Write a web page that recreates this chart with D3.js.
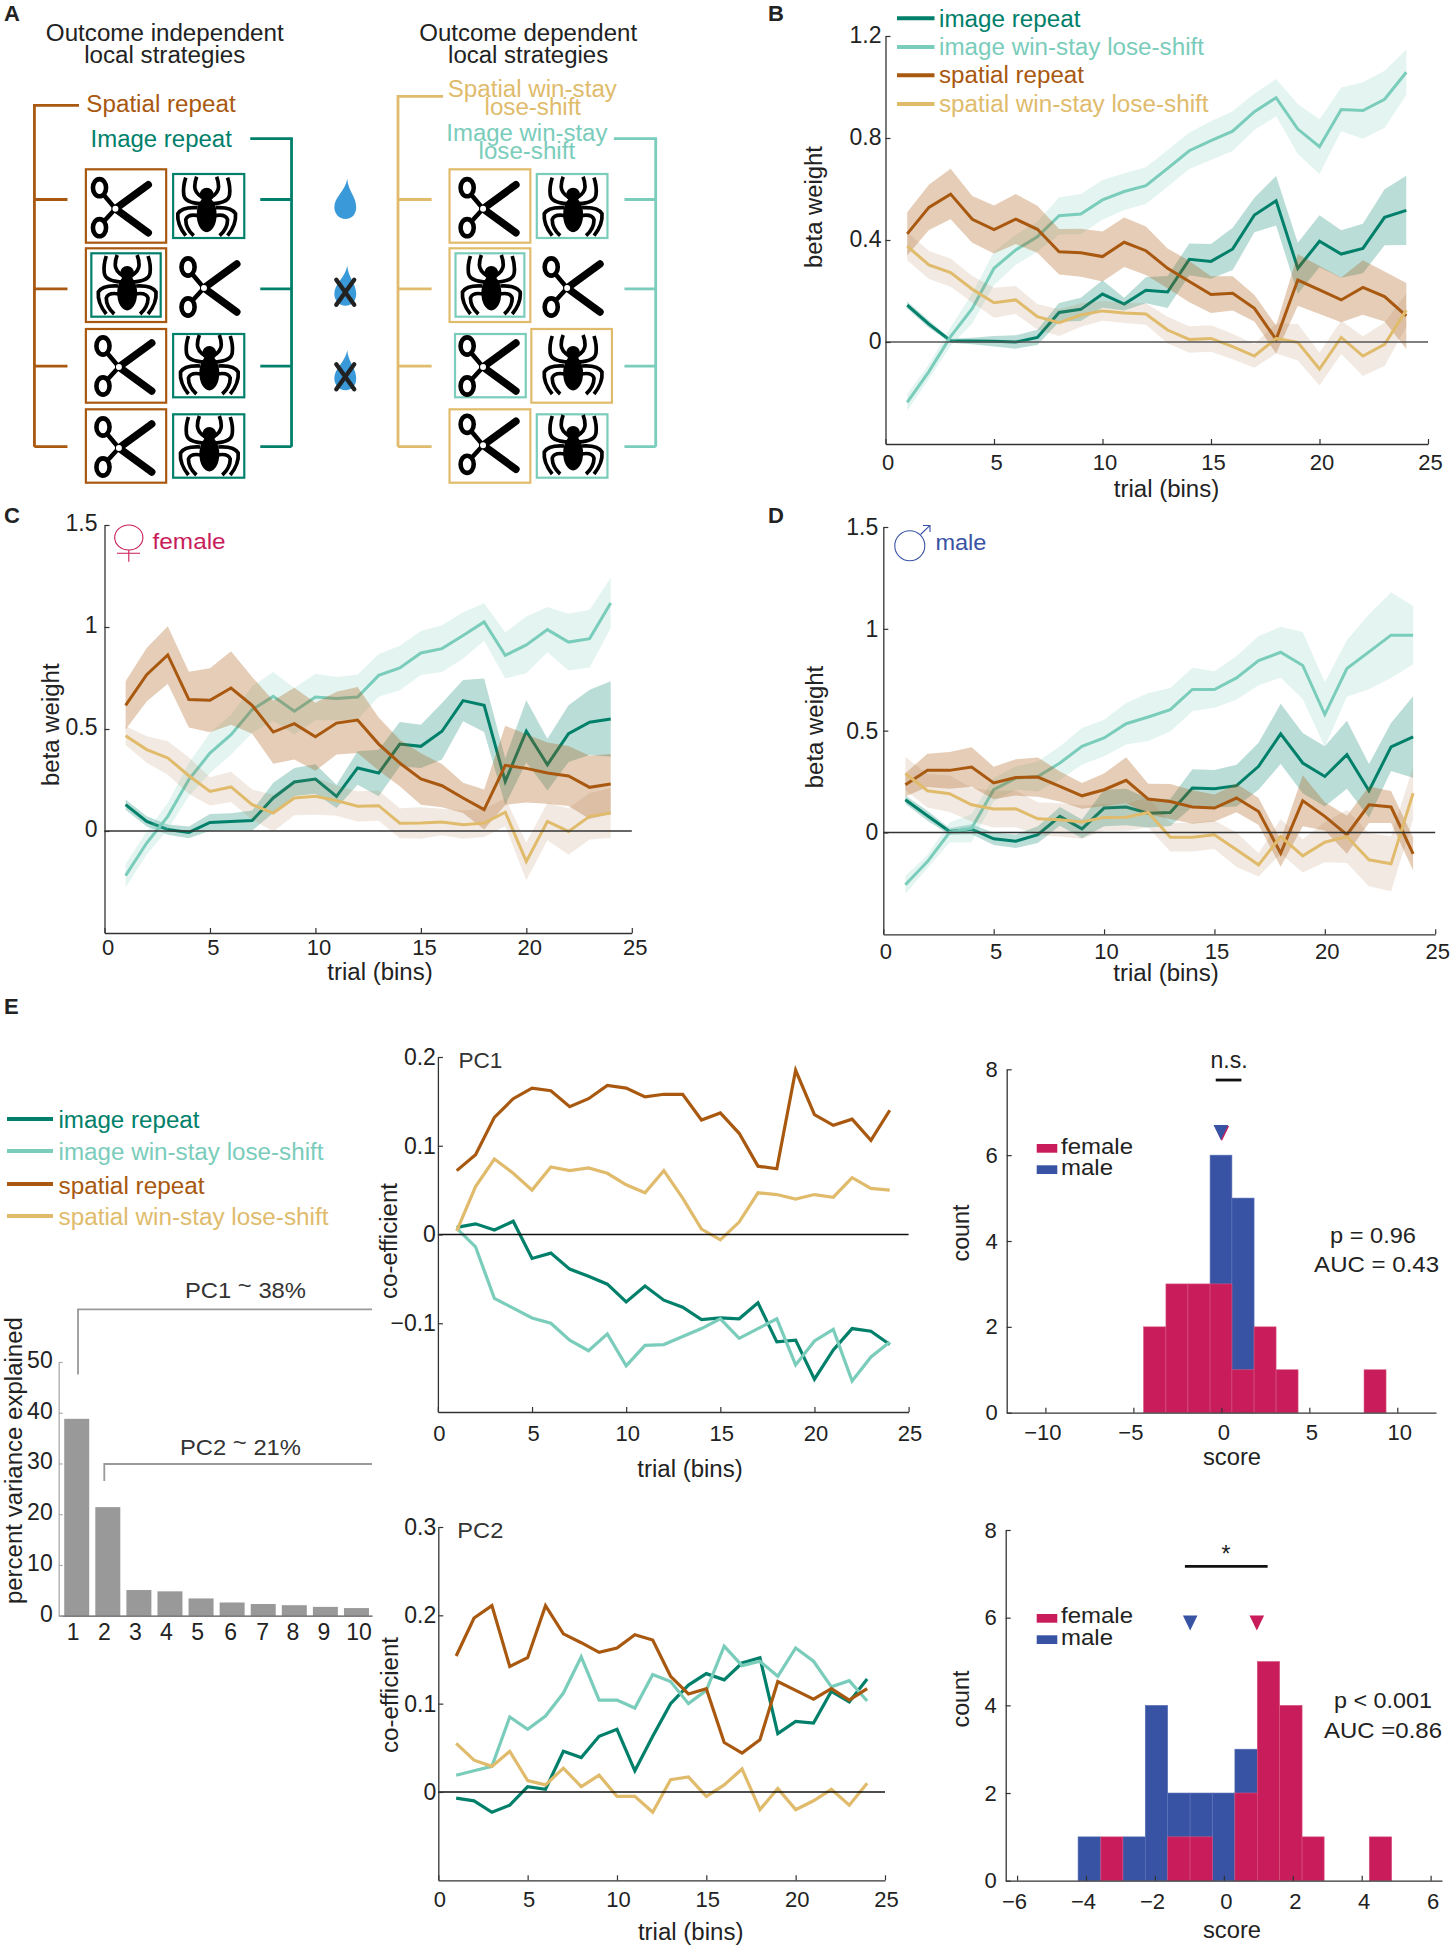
<!DOCTYPE html>
<html><head><meta charset="utf-8">
<script src="https://cdn.jsdelivr.net/npm/d3@7/dist/d3.min.js"></script>
<style>
html,body{margin:0;padding:0;background:#fff}
svg{display:block;font-family:"Liberation Sans",Arial,sans-serif}
</style></head><body><svg id="fig" width="1453" height="1950" viewBox="0 0 1453 1950"></svg>
<script>
const trials = d3.range(1, 25);
const seriesNames = ["image repeat", "image win-stay lose-shift", "spatial repeat", "spatial win-stay lose-shift"];
const seriesColors = ["#00806a", "#7accbb", "#a9580f", "#e0bb6c"];
const bandColors = ["#00806a", "#7accbb", "#a9580f", "#a9703c"];
const bandOpacity = [0.27, 0.2, 0.3, 0.15];

// Panel B: all animals
const bImageRepeat = [.145,.07,.005,.004,.003,0,.018,.116,.128,.188,.149,.203,.196,.324,.316,.365,.498,.554,.289,.395,.345,.367,.489,.516];
const bImageRepeatErr = [.014,.014,.008,.013,.021,.026,.03,.037,.046,.054,.025,.051,.063,.062,.068,.083,.068,.097,.1,.102,.093,.097,.11,.136];
const bImageWsls = [-.237,-.116,.021,.132,.289,.361,.413,.495,.502,.557,.59,.613,.681,.75,.79,.827,.903,.958,.835,.766,.912,.908,.952,1.058];
const bImageWslsErr = [.033,.029,.037,.059,.065,.059,.059,.073,.078,.078,.072,.072,.072,.072,.076,.078,.072,.073,.098,.108,.086,.111,.112,.089];
const bSpatialRepeat = [.424,.528,.58,.481,.441,.482,.442,.354,.35,.335,.391,.358,.289,.237,.186,.191,.132,.01,.243,.204,.165,.214,.178,.102];
const bSpatialRepeatErr = [.085,.089,.099,.092,.094,.098,.092,.089,.094,.098,.097,.095,.078,.081,.072,.067,.052,.055,.101,.094,.088,.107,.098,.129];
const bSpatialWsls = [.376,.302,.272,.207,.154,.165,.099,.076,.106,.122,.114,.11,.047,.01,.014,-.018,-.055,.014,-.001,-.106,.018,-.055,-.009,.125];
const bSpatialWslsErr = [.055,.055,.055,.052,.059,.055,.05,.052,.046,.039,.039,.042,.052,.052,.052,.05,.046,.059,.072,.065,.065,.078,.085,.065];

// Panel C: female
const cImageRepeat = [.129,.047,.007,-.007,.042,.046,.051,.162,.24,.255,.17,.309,.284,.426,.415,.489,.639,.616,.243,.489,.325,.477,.533,.549];
const cImageRepeatErr = [.025,.025,.025,.029,.041,.041,.049,.074,.069,.072,.057,.082,.114,.108,.106,.139,.101,.131,.114,.152,.127,.139,.16,.185];
const cImageWsls = [-.219,-.059,.072,.252,.382,.472,.595,.66,.587,.657,.649,.657,.763,.799,.873,.894,.958,1.025,.861,.912,.987,.926,.943,1.118];
const cImageWslsErr = [.057,.057,.065,.082,.098,.098,.114,.12,.114,.114,.106,.11,.105,.109,.108,.114,.114,.092,.113,.139,.111,.139,.142,.124];
const cSpatialRepeat = [.616,.766,.863,.644,.641,.701,.616,.485,.526,.462,.529,.544,.426,.333,.255,.222,.162,.105,.322,.307,.284,.27,.214,.23];
const cSpatialRepeatErr = [.118,.131,.141,.137,.157,.18,.139,.155,.176,.167,.154,.162,.13,.114,.126,.106,.074,.098,.194,.167,.15,.147,.155,.147];
const cSpatialWsls = [.467,.399,.358,.271,.194,.216,.129,.088,.162,.17,.149,.121,.124,.038,.039,.044,.031,.039,.092,-.149,.047,-.002,.072,.088];
const cSpatialWslsErr = [.046,.065,.082,.09,.069,.074,.074,.09,.085,.09,.074,.074,.074,.074,.077,.065,.069,.069,.069,.093,.092,.114,.114,.122];

// Panel D: male
const dImageRepeat = [.161,.082,.005,.016,-.031,-.043,-.011,.079,.018,.12,.125,.095,.098,.218,.215,.23,.325,.484,.341,.275,.382,.205,.42,.469];
const dImageRepeatErr = [.02,.025,.016,.025,.03,.033,.041,.046,.046,.09,.09,.07,.066,.092,.092,.102,.115,.148,.148,.148,.167,.131,.118,.2];
const dImageWsls = [-.257,-.143,0,.021,.21,.267,.275,.341,.423,.464,.534,.567,.603,.702,.702,.759,.844,.885,.82,.579,.805,.887,.969,.969];
const dImageWslsErr = [.044,.033,.049,.069,.057,.057,.074,.082,.09,.09,.102,.118,.107,.107,.09,.107,.121,.125,.164,.159,.139,.184,.21,.143];
const dSpatialRepeat = [.234,.305,.305,.321,.243,.27,.272,.226,.18,.21,.256,.164,.152,.125,.12,.169,.103,-.102,.156,.079,-.011,.136,.125,-.105];
const dSpatialRepeatErr = [.057,.082,.09,.097,.08,.089,.096,.074,.063,.08,.113,.075,.086,.082,.066,.07,.066,.066,.125,.069,.093,.09,.079,.082];
const dSpatialWsls = [.289,.205,.19,.136,.115,.116,.067,.062,.051,.074,.075,.098,-.023,-.023,-.011,-.085,-.159,-.02,-.115,-.048,-.02,-.134,-.154,.193];
const dSpatialWslsErr = [.082,.082,.09,.082,.09,.09,.082,.082,.082,.066,.066,.074,.07,.07,.07,.085,.057,.085,.082,.098,.13,.13,.135,.13];

// Panel E: PCA coefficients
const pc1ImageRepeat = [.008,.012,.005,.015,-.027,-.021,-.039,-.047,-.056,-.076,-.058,-.074,-.082,-.096,-.094,-.095,-.077,-.121,-.119,-.163,-.13,-.106,-.109,-.124];
const pc1ImageWsls = [.007,-.014,-.072,-.083,-.094,-.1,-.119,-.131,-.112,-.148,-.125,-.124,-.115,-.106,-.095,-.117,-.106,-.095,-.147,-.12,-.107,-.165,-.138,-.121];
const pc1SpatialRepeat = [.072,.09,.132,.153,.165,.162,.144,.153,.168,.165,.155,.158,.158,.129,.137,.114,.077,.074,.185,.135,.123,.13,.106,.14];
const pc1SpatialWsls = [.004,.054,.085,.069,.05,.076,.072,.075,.069,.056,.047,.072,.041,.006,-.006,.014,.047,.045,.04,.045,.042,.064,.052,.05];
const pc2ImageRepeat = [-.007,-.01,-.023,-.015,.006,.003,.046,.039,.063,.071,.024,.063,.1,.121,.134,.127,.146,.152,.066,.08,.078,.114,.102,.128];
const pc2ImageWsls = [.019,.024,.029,.085,.071,.086,.112,.153,.104,.104,.095,.133,.125,.1,.115,.165,.143,.148,.131,.163,.148,.119,.126,.103];
const pc2SpatialRepeat = [.154,.197,.211,.142,.152,.211,.179,.169,.158,.163,.178,.172,.131,.111,.117,.056,.044,.059,.125,.115,.105,.117,.104,.117];
const pc2SpatialWsls = [.055,.036,.029,.046,.013,.008,.027,.006,.019,-.005,-.005,-.023,.014,.017,-.005,.008,.026,-.02,.004,-.02,-.01,.003,-.015,.01];

// Panel E: scree
const components = [1,2,3,4,5,6,7,8,9,10];
const varianceExplained = [38.8,21.4,5.06,4.8,3.4,2.6,2.3,2.07,1.74,1.5];

// Panel E: score histograms [left edge, right edge, count]
const hist1Female = [[-4.42,-3.15,2],[-3.15,-1.9,3],[-1.9,-.64,3],[-.64,.6,3],[.6,1.86,1],[1.86,3.11,2],[3.11,4.36,1],[8.11,9.36,1]];
const hist1Male = [[-.64,.6,6],[.6,1.86,5]];
const hist2Female = [[-3.57,-2.93,1],[-1.63,-.98,1],[-.98,-.33,1],[.32,.97,2],[.97,1.62,5],[1.62,2.27,4],[2.27,2.91,1],[4.22,4.87,1]];
const hist2Male = [[-4.23,-3.57,1],[-2.93,-2.28,1],[-2.28,-1.63,4],[-1.63,-.98,2],[-.98,-.33,2],[-.33,.32,2],[.32,.97,3]];

const INK = "#222", AXIS = "#333";
const RED = "#c81d5a", BLUE = "#3953a4";
const svg = d3.select("#fig");

function label(g, s, x, y, o = {}) {
  const t = g.append("text").text(s)
    .attr("font-size", o.size || 22)
    .attr("fill", o.fill || INK)
    .attr("text-anchor", o.anchor || "start");
  if (o.weight) t.attr("font-weight", o.weight);
  if (o.len) t.attr("textLength", o.len).attr("lengthAdjust", "spacingAndGlyphs");
  if (o.rotate) t.attr("transform", `translate(${x},${y}) rotate(${o.rotate})`);
  else t.attr("x", x).attr("y", y);
  return t;
}

function styleAxis(sel, color, size) {
  sel.selectAll("path.domain").attr("stroke", color).attr("stroke-width", 1.3);
  sel.selectAll(".tick line").attr("stroke", color).attr("stroke-width", 1.2);
  sel.selectAll(".tick text").attr("font-size", size).attr("fill", INK).attr("font-family", "inherit");
  sel.attr("font-family", null).attr("font-size", null);
}

function axes(g, x, y, xt, yt, bottom, left, o = {}) {
  const ax = g.append("g").attr("transform", `translate(0,${bottom})`)
    .call(d3.axisBottom(x).tickValues(xt).tickSizeInner(-5).tickSizeOuter(0).tickPadding(o.xpad || 11).tickFormat(d3.format("~g")));
  styleAxis(ax, AXIS, o.size || 22);
  ax.selectAll(".tick text").attr("dx", o.xdx === undefined ? 2 : o.xdx);
  const ay = g.append("g").attr("transform", `translate(${left},0)`)
    .call(d3.axisLeft(y).tickValues(yt).tickSizeInner(-5).tickSizeOuter(0).tickPadding(o.ypad || 4).tickFormat(d3.format("~g")));
  styleAxis(ay, AXIS, o.ysize || o.size || 22);
  if (o.ylift) ay.selectAll(".tick text").attr("y", -o.ylift);
  return [ax, ay];
}

function trialPanel(cfg) {
  const g = svg.append("g");
  const x = d3.scaleLinear().domain([0, 25]).range(cfg.xr);
  const y = d3.scaleLinear().domain(cfg.yd).range(cfg.yr);
  const line = d3.line().x((d, i) => x(trials[i])).y(d => y(d));
  cfg.means.forEach((m, k) => {
    if (cfg.errs) {
      const area = d3.area().x((d, i) => x(trials[i]))
        .y0((d, i) => y(d - cfg.errs[k][i])).y1((d, i) => y(d + cfg.errs[k][i]));
      g.append("path").attr("d", area(m)).attr("fill", bandColors[k]).attr("fill-opacity", bandOpacity[k]);
    }
    g.append("path").attr("d", line(m)).attr("fill", "none").attr("stroke", seriesColors[k])
      .attr("stroke-width", cfg.lw || 3).attr("stroke-linejoin", "miter");
  });
  g.append("line").attr("x1", x(0)).attr("x2", x(25)).attr("y1", y(0)).attr("y2", y(0))
    .attr("stroke", cfg.zero || "#333").attr("stroke-width", 1.4);
  axes(g, x, y, [0, 5, 10, 15, 20, 25], cfg.yt, cfg.yr[0], cfg.xr[0], cfg.axis);
  label(g, "trial (bins)", cfg.xlab[0], cfg.xlab[1], {anchor: "middle", len: 105.5, size: 23});
  label(g, cfg.ylabText, cfg.ylab[0], cfg.ylab[1], {anchor: "middle", rotate: -90, len: cfg.ylab[2], size: 23});
  return {g, x, y};
}

function legendLines(x1, x2, tx, ys, bs, lens, lw) {
  seriesNames.forEach((n, i) => {
    svg.append("line").attr("x1", x1).attr("x2", x2).attr("y1", ys[i]).attr("y2", ys[i])
      .attr("stroke", seriesColors[i]).attr("stroke-width", lw);
    label(svg, n, tx, bs[i], {fill: seriesColors[i], len: lens[i], size: 23});
  });
}

/* -------- Panel letters -------- */
label(svg, "A", 4, 21, {size: 22, weight: "bold"});
label(svg, "B", 768, 21, {size: 22, weight: "bold"});
label(svg, "C", 4, 523, {size: 22, weight: "bold"});
label(svg, "D", 768, 523, {size: 22, weight: "bold"});
label(svg, "E", 4, 1014, {size: 22, weight: "bold"});

/* -------- Panel A -------- */
const defs = svg.append("defs");
const sc = defs.append("g").attr("id", "scissors");
sc.append("path").attr("d", "M-6,2 L27,-22").attr("stroke", "#000").attr("stroke-width", 7.5).attr("stroke-linecap", "round");
sc.append("path").attr("d", "M-6,2 L27,26").attr("stroke", "#000").attr("stroke-width", 7.5).attr("stroke-linecap", "round");
sc.append("path").attr("d", "M-6,2 L-17,-11 M-6,2 L-17,14").attr("stroke", "#000").attr("stroke-width", 4.5).attr("stroke-linecap", "round");
[[-22, -19], [-22, 21]].forEach(p => sc.append("ellipse").attr("cx", p[0]).attr("cy", p[1]).attr("rx", 6.6).attr("ry", 8.6)
  .attr("fill", "#fff").attr("stroke", "#000").attr("stroke-width", 4.6));
sc.append("circle").attr("cx", -6).attr("cy", 2).attr("r", 3).attr("fill", "#fff");

const sp = defs.append("g").attr("id", "spider");
sp.append("circle").attr("cx", 0).attr("cy", -12).attr("r", 7).attr("fill", "#000");
sp.append("ellipse").attr("cx", 0).attr("cy", 8).attr("rx", 10).attr("ry", 17.5).attr("fill", "#000");
const legs = "M-6,-3 Q-22,-4 -23,-12 Q-24,-20 -21,-29 M-4,-9 Q-12,-14 -12,-20 Q-12,-25 -10,-30 M-9,1 Q-25,0 -29,7 Q-30,18 -21,29 M-8,9 Q-19,7 -21,13 Q-21,22 -13,29";
[1, -1].forEach(s => sp.append("path").attr("d", legs).attr("transform", `scale(${s},1)`)
  .attr("fill", "none").attr("stroke", "#000").attr("stroke-width", 3.7));

const drop = "M2,-20 C0,-8 -11,-2 -11,8 C-11,15 -6,20 0,20 C7,20 11,15 11,8 C11,-2 3,-8 2,-20Z";
const A = svg.append("g").attr("transform", "scale(0.995,1)");
const C_B = seriesColors[2], C_G = seriesColors[0], C_T = seriesColors[3], C_L = seriesColors[1];

label(A, "Outcome independent", 165.6, 40.7, {anchor: "middle", size: 23, len: 239});
label(A, "local strategies", 165.6, 62.7, {anchor: "middle", size: 23, len: 162});
label(A, "Outcome dependent", 530.8, 40.7, {anchor: "middle", size: 23, len: 219});
label(A, "local strategies", 530.8, 62.7, {anchor: "middle", size: 23, len: 161});
label(A, "Spatial repeat", 86.8, 112.3, {size: 23, fill: C_B, len: 150});
label(A, "Image repeat", 91, 146.7, {size: 23, fill: C_G, len: 142});
label(A, "Spatial win-stay", 450, 96.7, {size: 23, fill: C_T, len: 170});
label(A, "lose-shift", 487, 115, {size: 23, fill: C_T, len: 97});
label(A, "Image win-stay", 448.5, 140.7, {size: 23, fill: C_L, len: 162});
label(A, "lose-shift", 481, 159, {size: 23, fill: C_L, len: 97});

function bracket(col, spineX, topY, topX, armX) {
  const rows = [199.5, 288.8, 366.2, 446.7];
  let d = `M${topX},${topY} H${spineX} V${rows[3]}`;
  rows.forEach(r => d += ` M${armX},${r} H${spineX}`);
  A.append("path").attr("d", d).attr("fill", "none").attr("stroke", col).attr("stroke-width", 2.8);
}
bracket(C_B, 34.6, 105.3, 79.4, 67.8);
bracket(C_G, 293, 138.7, 251.5, 261.6);
bracket(C_T, 400, 96.3, 445.3, 433.8);
bracket(C_L, 659, 138.7, 617, 627.6);

const boxes = [
 [86.3,169.3,167,242.7,C_B],[174,174,245.5,238,C_G],
 [86.3,248.3,167,322,C_B],[91.8,253.3,161.5,316.7,C_G],
 [86.3,329,167,402.7,C_B],[174,334,245.5,397.3,C_G],
 [86.3,409.3,167,482.7,C_B],[174,414.3,245.5,477.7,C_G],
 [451.8,169.3,533,242.7,C_T],[539.5,174,610.5,238,C_L],
 [451.8,248.3,533,322,C_T],[457.8,253.3,527,316.7,C_L],
 [457.3,334,528.4,397.3,C_L],[534,329,615,402.7,C_T],
 [451.8,409.3,533,482.7,C_T],[539.5,414.3,610.5,477.7,C_L]
];
boxes.forEach(b => A.append("rect").attr("x", b[0]).attr("y", b[1]).attr("width", b[2]-b[0]).attr("height", b[3]-b[1])
  .attr("fill", "none").attr("stroke", b[4]).attr("stroke-width", 2.2));
const icons = [
 ["scissors",122,206.7],["spider",207.7,206.7],["spider",127.8,285],["scissors",211,286],
 ["scissors",125.5,365],["spider",210.4,365],["scissors",125.5,446],["spider",210.4,446],
 ["scissors",491.5,206.7],["spider",576,206.7],["spider",493.8,285],["scissors",576,286],
 ["scissors",491.5,365],["spider",576,365],["scissors",491.5,443.3],["spider",576,445]
];
icons.forEach(i => A.append("use").attr("href", "#" + i[0]).attr("x", i[1]).attr("y", i[2]));
[[347,199,false],[347,285.7,true],[347,370.3,true]].forEach(r => {
  const t = A.append("g").attr("transform", `translate(${r[0]},${r[1]})`);
  t.append("path").attr("d", drop).attr("fill", "#3a9ad9");
  if (r[2]) t.append("path").attr("d", "M-9,-6 L9,19 M9,-6 L-9,19").attr("stroke", "#222").attr("stroke-width", 4.4).attr("stroke-linecap", "round");
});

/* -------- Panels B, C, D -------- */
trialPanel({xr:[885.5,1428], yd:[-.4,1.2], yr:[444,36], yt:[0,.4,.8,1.2],
  means:[bImageRepeat,bImageWsls,bSpatialRepeat,bSpatialWsls],
  errs:[bImageRepeatErr,bImageWslsErr,bSpatialRepeatErr,bSpatialWslsErr],
  xlab:[1166.5,496.7], ylab:[822,207,122], ylabText:"beta weight", zero:"#555",
  axis:{xpad:10,xdx:2,ysize:23,ypad:4,ylift:1}});
legendLines(897,934.5,939,[18.3,47,75.3,104],[26.7,55,83.3,111.7],[141.5,265,145,269.5],4);

trialPanel({xr:[104.5,631.8], yd:[-.5,1.5], yr:[933,525], yt:[0,.5,1,1.5],
  means:[cImageRepeat,cImageWsls,cSpatialRepeat,cSpatialWsls],
  errs:[cImageRepeatErr,cImageWslsErr,cSpatialRepeatErr,cSpatialWslsErr],
  xlab:[380,980], ylab:[58.5,724.7,122.5], ylabText:"beta weight", axis:{xpad:6,xdx:3,ysize:23,ypad:7,ylift:2}});
const fem = svg.append("g").attr("fill","none").attr("stroke",RED).attr("stroke-width",1.1);
fem.append("ellipse").attr("cx",128.8).attr("cy",537.5).attr("rx",14.1).attr("ry",12.5);
fem.append("path").attr("d","M128.8,550 V561.7 M117,553.3 H140");
label(svg,"female",152.6,549,{fill:RED,len:73,size:22});

trialPanel({xr:[883.3,1435.2], yd:[-.5,1.5], yr:[934.3,527], yt:[0,.5,1,1.5],
  means:[dImageRepeat,dImageWsls,dSpatialRepeat,dSpatialWsls],
  errs:[dImageRepeatErr,dImageWslsErr,dSpatialRepeatErr,dSpatialWslsErr],
  xlab:[1166,981], ylab:[823,727,122.5], ylabText:"beta weight", axis:{xpad:9,xdx:2,ysize:23,ypad:5}});
const mal = svg.append("g").attr("fill","none").attr("stroke",BLUE).attr("stroke-width",1.1);
mal.append("ellipse").attr("cx",909.8).attr("cy",545.7).attr("rx",15).attr("ry",15);
mal.append("path").attr("d","M920.5,534.5 L930,525.3 M923,525.5 H930 V532");
label(svg,"male",935.4,550,{fill:BLUE,len:51,size:22});

/* -------- Panel E legend, scree -------- */
legendLines(7,53,58.5,[1119,1151,1184,1216],[1128,1160,1193.5,1225],[141,265,146,270],4);

const sg = svg.append("g");
const sx = d3.scaleLinear().domain([.42,10.5]).range([58.7,372]);
const sy = d3.scaleLinear().domain([0,50]).range([1615.7,1362]);
const screeLabelShift = [-4,-4,-4,-4,-4,-2,-1,-2,-2,2];
sg.selectAll("rect").data(varianceExplained).join("rect")
  .attr("x",(d,i)=>sx(components[i])-12.5).attr("width",25)
  .attr("y",d=>sy(d)).attr("height",d=>sy(0)-sy(d)).attr("fill","#999");
const sax = sg.append("g").attr("transform",`translate(0,${sy(0)})`)
  .call(d3.axisBottom(sx).tickValues(components).tickSize(0).tickPadding(8).tickFormat(d3.format("d")));
styleAxis(sax,"#555",23);
sax.selectAll(".tick text").attr("dx",(d,i)=>screeLabelShift[i]);
const say = sg.append("g").attr("transform",`translate(${sx.range()[0]},0)`)
  .call(d3.axisLeft(sy).tickValues([0,10,20,30,40,50]).tickSizeInner(-4).tickSizeOuter(0).tickPadding(6));
styleAxis(say,"#aaa",23);
say.selectAll(".tick text").attr("y",-2);
label(sg,"percent variance explained",21.7,1460.6,{anchor:"middle",rotate:-90,len:287,size:23});
sg.append("path").attr("d","M78,1374.6 V1309.3 H372 M104.3,1481 V1464 H372").attr("fill","none").attr("stroke","#999").attr("stroke-width",1.8);
[["PC1 ",["~"]," 38%",185,1298],["PC2 ",["~"]," 21%",180,1454.5]].forEach(r=>{
  const t = sg.append("text").attr("x",r[3]).attr("y",r[4]).attr("font-size",22).attr("fill","#333")
    .attr("textLength",121).attr("lengthAdjust","spacingAndGlyphs");
  t.append("tspan").text(r[0]);
  t.append("tspan").attr("dy",-5).text(r[1][0]);
  t.append("tspan").attr("dy",5).text(r[2]);
});

/* -------- PC panels -------- */
const p1 = trialPanel({xr:[437.9,908.6], yd:[-.2,.2], yr:[1412,1057], yt:[-.1,0,.1,.2],
  means:[pc1ImageRepeat,pc1ImageWsls,pc1SpatialRepeat,pc1SpatialWsls],
  xlab:[690,1476.7], ylab:[396.7,1241,116], ylabText:"co-efficient", zero:"#111", axis:{xpad:13,xdx:1,ypad:2,ysize:23}, lw:3.2});
label(p1.g,"PC1",458.4,1068,{fill:"#333",len:44,size:22});
const p2 = trialPanel({xr:[438.3,885], yd:[-.1,.3], yr:[1880.3,1527], yt:[0,.1,.2,.3],
  means:[pc2ImageRepeat,pc2ImageWsls,pc2SpatialRepeat,pc2SpatialWsls],
  xlab:[690.7,1940], ylab:[398,1695,116], ylabText:"co-efficient", zero:"#111", axis:{xpad:11,xdx:1,ypad:2,ysize:23}, lw:3.2});
label(p2.g,"PC2",457.3,1538,{fill:"#333",len:46,size:22});

/* -------- Histograms -------- */
function hist(cfg) {
  const g = svg.append("g");
  const x = d3.scaleLinear().domain(cfg.xd).range(cfg.xr);
  const y = d3.scaleLinear().domain([0,8]).range(cfg.yr);
  [[cfg.male,BLUE,"#5b72b8"],[cfg.female,RED,"#d8557f"]].forEach(s=>{
    g.selectAll(null).data(s[0]).join("rect")
      .attr("x",d=>x(d[0])).attr("width",d=>x(d[1])-x(d[0]))
      .attr("y",d=>y(d[2])).attr("height",d=>y(0)-y(d[2]))
      .attr("fill",s[1]).attr("stroke",s[2]).attr("stroke-width",.6);
  });
  cfg.tri.forEach(t=>{
    const cx=x(t[0]), top=y(t[1]);
    g.append("path").attr("d",`M${cx-7.3},${top} H${cx+7.3} L${cx},${top+15} Z`).attr("fill",t[2]);
  });
  const ax = g.append("g").attr("transform",`translate(0,${y(0)})`)
    .call(d3.axisBottom(x).tickValues(cfg.xt).tickSizeInner(-5).tickSizeOuter(0).tickPadding(cfg.xpad));
  styleAxis(ax,AXIS,22);
  ax.selectAll(".tick text").attr("dx",d=>d<0?-3:2);
  const ay = g.append("g").attr("transform",`translate(${cfg.xr[0]},0)`)
    .call(d3.axisLeft(y).tickValues([0,2,4,6,8]).tickSizeInner(-5).tickSizeOuter(0).tickPadding(9));
  styleAxis(ay,AXIS,22);
  g.append("line").attr("x1",x(cfg.sig[0])).attr("x2",x(cfg.sig[1])).attr("y1",y(cfg.sig[2])).attr("y2",y(cfg.sig[2]))
    .attr("stroke","#111").attr("stroke-width",2.8);
  label(g,cfg.sigText,cfg.sigPos[0],cfg.sigPos[1],{anchor:"middle",size:23});
  [["female",RED,cfg.leg[0],cfg.leg[2],72],["male",BLUE,cfg.leg[1],cfg.leg[3],52]].forEach(r=>{
    g.append("rect").attr("x",1036.7).attr("y",r[2]).attr("width",20.6).attr("height",8.7).attr("fill",r[1]);
    label(g,r[0],1061,r[3],{len:r[4],size:22});
  });
  cfg.notes.forEach(n=>label(g,n[0],n[1],n[2],{anchor:"middle",len:n[3],size:22}));
  label(g,"score",1232,cfg.scoreY,{anchor:"middle",len:58,size:23});
  label(g,"count",969,cfg.countY,{anchor:"middle",rotate:-90,len:57,size:23});
}
hist({xd:[-12.2,12.2],xr:[1006.7,1436],yr:[1412.7,1069.3],xt:[-10,-5,0,5,10],female:hist1Female,male:hist1Male,
  tri:[[.03,6.68,RED],[-.03,6.7,BLUE]],sig:[-.32,1.14,7.75],sigText:"n.s.",sigPos:[1229,1068],
  leg:[1144,1165.3,1154,1175],notes:[["p = 0.96",1373,1243,86],["AUC = 0.43",1376.6,1272,125]],
  scoreY:1465,countY:1233,xpad:12});
hist({xd:[-6.33,6.33],xr:[1005.7,1442],yr:[1880.7,1530],xt:[-6,-4,-2,0,2,4,6],female:hist2Female,male:hist2Male,
  tri:[[-.977,6.05,BLUE],[.957,6.05,RED]],sig:[-1.13,1.27,7.17],sigText:"*",sigPos:[1226,1562],
  leg:[1614,1635.3,1623.3,1645],notes:[["p < 0.001",1383,1708,98],["AUC =0.86",1383,1737.7,118]],
  scoreY:1938,countY:1699,xpad:13});
</script></body></html>
